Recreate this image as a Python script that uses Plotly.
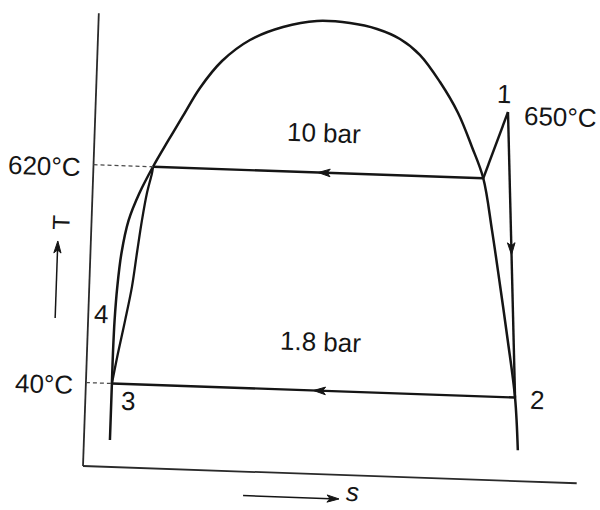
import math
import plotly.graph_objects as go

# ---- Schematic T-s diagram (diagram units: s to the right, T upward, origin at axis corner) ----

# saturation dome, traced from the bottom of the liquid leg over the top to the vapour leg
dome_s = [26, 26, 26, 26.5, 28, 31, 37, 47, 59.5, 73.6, 87.7, 103.7, 124.8, 152, 184.6, 218.3,
          251.4, 278.6, 301.9, 322.5, 343.4, 362.5, 377.6, 390, 400.5, 410.5, 420, 429.4, 434]
dome_T = [27, 83.5, 114, 147, 180, 214, 247, 275, 301.5, 327.8, 353.3, 381.9, 409.6, 431.6, 445.7, 452.9,
          452.0, 447.0, 437.8, 422.5, 396.2, 365.9, 332.4, 301.5, 250, 195, 141, 83.5, 31]

# compression curve 3 -> 4 -> saturated liquid at 10 bar
comp_s = [26, 31, 37, 42.7, 46.5, 50.4, 54.4, 58.7, 59.5]
comp_T = [83.5, 114, 147, 181, 215, 248, 275, 295, 301.5]

# state points
state_names = ["f", "g", "1", "2", "3"]
state_s = [59.5, 390.0, 412.4, 429.4, 26.0]
state_T = [301.5, 301.5, 368.6, 83.5, 83.5]

# process lines (with an arrow where the direction is shown)
processes = [("g", "f", True), ("g", "1", False), ("1", "2", True), ("2", "3", True)]

# axes
axis_T_top = 453
axis_s_end = 494
T_levels = [301.5, 83.5]
T_level_labels = ["620°C", "40°C"]
T_level_ends = [59.5, 26.0]

labels = [
    ("1", 407.8, 386.5),
    ("650°C", 465.5, 365.5),
    ("2", 451.4, 81.8),
    ("3", 42.7, 66.5),
    ("4", 12.7, 152.5),
    ("10 bar", 229.2, 341.2),
    ("1.8 bar", 233.5, 132.2),
]

# ---- drawing ----
TILT = math.radians(2.0)
ORIGIN = (83.0, 466.0)
INK = "#151515"
FONT = "Liberation Sans, Arial, sans-serif"
FONT_SIZE = 26


def to_page(u, w):
    c, s = math.cos(TILT), math.sin(TILT)
    return ORIGIN[0] + u * c + w * s, ORIGIN[1] + u * s - w * c


def page_xy(us, ws):
    pts = [to_page(u, w) for u, w in zip(us, ws)]
    return [p[0] for p in pts], [p[1] for p in pts]


fig = go.Figure()


def add_line(us, ws, width=2.4, color=INK, dash=None, shape="linear"):
    x, y = page_xy(us, ws)
    fig.add_trace(go.Scatter(x=x, y=y, mode="lines", hoverinfo="skip",
                             line=dict(color=color, width=width, dash=dash, shape=shape)))


def add_head(tip, direction, length=12, half=3.8, color=INK):
    du, dw = direction
    n = math.hypot(du, dw)
    du, dw = du / n, dw / n
    nu, nw = -dw, du
    bu, bw = tip[0] - length * du, tip[1] - length * dw
    us = [tip[0], bu + half * nu, bu + 0.25 * length * du, bu - half * nu, tip[0]]
    ws = [tip[1], bw + half * nw, bw + 0.25 * length * dw, bw - half * nw, tip[1]]
    x, y = page_xy(us, ws)
    fig.add_trace(go.Scatter(x=x, y=y, mode="lines", fill="toself", fillcolor=color,
                             hoverinfo="skip", line=dict(color=color, width=1)))


def add_label(text, x, y, xanchor="center", yanchor="middle", angle=2, size=FONT_SIZE):
    fig.add_annotation(x=x, y=y, text=text, showarrow=False, xanchor=xanchor, yanchor=yanchor,
                       textangle=angle, font=dict(family=FONT, size=size, color=INK))


# axes
add_line([0, 0], [0, axis_T_top], width=1.8, color="#2a2a2a")
add_line([0, axis_s_end], [0, 0], width=1.8, color="#2a2a2a")

# dome and compression curve
add_line(dome_s, dome_T, width=2.5, shape="spline")
add_line(comp_s, comp_T, width=2.3, shape="spline")

# process lines
pt = {n: (s, t) for n, s, t in zip(state_names, state_s, state_T)}
for a, b, arrow in processes:
    (sa, ta), (sb, tb) = pt[a], pt[b]
    add_line([sa, sb], [ta, tb], width=2.4)
    if arrow:
        tip = (sa + 0.5 * (sb - sa), ta + 0.5 * (tb - ta))
        add_head(tip, (sb - sa, tb - ta))

# dashed temperature guides with their labels
for T, lab, s_end in zip(T_levels, T_level_labels, T_level_ends):
    add_line([0, s_end], [T, T], width=1.3, color="#4a4a4a", dash="4px,3px")
    x, y = to_page(-10, T - 2)
    add_label(lab, x, y, xanchor="right")

# point and pressure labels
for text, s, T in labels:
    x, y = to_page(s, T)
    add_label(text, x, y)

# axis direction arrows and names
add_line([-33, -33], [147, 215], width=1.5)
add_head((-33, 224), (0, 1), length=12, half=3.6)
x, y = to_page(-31, 243)
add_label("T", x, y, angle=-88, size=24)

add_line([161, 248], [-24, -24], width=1.5)
add_head((257, -24), (1, 0), length=12, half=3.6)
x, y = to_page(270, -24)
add_label("<i>s</i>", x, 509, yanchor="bottom")

fig.update_xaxes(visible=False, range=[0, 600], fixedrange=True)
fig.update_yaxes(visible=False, range=[510, 0], fixedrange=True)
fig.update_layout(width=600, height=510, margin=dict(l=0, r=0, t=0, b=0),
                  plot_bgcolor="white", paper_bgcolor="white", showlegend=False)

fig.write_html("out.html")
